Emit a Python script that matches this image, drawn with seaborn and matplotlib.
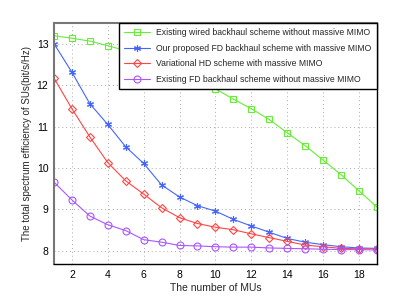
import matplotlib
matplotlib.use("Agg")
import matplotlib.pyplot as plt
import seaborn as sns
import pandas as pd
import numpy as np

mus = list(range(1, 20))

wired = [13.19, 13.13, 13.06, 12.95, 12.83, 12.69, 12.53, 12.35, 12.14, 11.91,
         11.66, 11.43, 11.17, 10.85, 10.54, 10.19, 9.84, 9.45, 9.06]
proposed_fd = [13.0, 12.31, 11.55, 11.05, 10.51, 10.11, 9.59, 9.30, 9.09, 8.96,
               8.76, 8.60, 8.45, 8.30, 8.21, 8.15, 8.10, 8.07, 8.06]
variational_hd = [12.17, 11.43, 10.75, 10.13, 9.69, 9.37, 9.04, 8.80, 8.66, 8.57,
                  8.51, 8.41, 8.32, 8.23, 8.14, 8.10, 8.06, 8.05, 8.05]
existing_fd = [9.66, 9.23, 8.84, 8.63, 8.49, 8.27, 8.21, 8.13, 8.12, 8.10,
               8.09, 8.09, 8.07, 8.06, 8.05, 8.04, 8.03, 8.03, 8.02]

labels = ["Existing wired backhaul scheme without massive MIMO",
          "Our proposed FD backhaul scheme with massive MIMO",
          "Variational HD scheme with massive MIMO",
          "Existing FD backhaul scheme without massive MIMO"]

sns.set_style("white")
plt.rcParams['font.family'] = ['Liberation Sans', 'DejaVu Sans']

fig = plt.figure(figsize=(4.15, 3.05), dpi=100)
ax = fig.add_axes([0.130, 0.134, 0.778, 0.791])

series = [(wired, "#66ee33", "s", 4.5), (proposed_fd, "#4466ff", (6, 2, 0), 5),
          (variational_hd, "#ff4444", "D", 4.2), (existing_fd, "#aa55ff", "o", 5)]
for (vals, col, mk, ms), lab in zip(series, labels):
    sns.lineplot(x=mus, y=vals, ax=ax, color=col, marker=mk, markersize=ms,
                 markerfacecolor="none", markeredgecolor=col,
                 markeredgewidth=0.8, lw=0.8, label=lab)

ax.set_xlim(1, 19)
ax.set_ylim(7.68, 13.5)
ax.set_xticks(range(2, 19, 2))
ax.set_yticks(range(8, 14))
ax.tick_params(direction="in", labelsize=7.5, length=3, colors="black", pad=4)
ax.grid(True, linestyle=(0, (1, 3)), color="#aaaaaa", lw=0.7)
for s in ["top", "left"]:
    ax.spines[s].set_color("#777777")
    ax.spines[s].set_linewidth(1.5)
for s in ["right", "bottom"]:
    ax.spines[s].set_color("black")
    ax.spines[s].set_linewidth(1.0)

ax.set_xlabel("The number of MUs", fontsize=7.5, labelpad=2.5)
ax.set_ylabel("The total spectrum efficiency of SUs(bit/s/Hz)", fontsize=7, labelpad=3)

leg = ax.legend(loc="upper right", fontsize=6.25, frameon=True, fancybox=False,
                borderaxespad=0, handlelength=3.0, labelspacing=0.75,
                borderpad=0.62, handletextpad=0.7)
leg.get_frame().set_edgecolor("black")
leg.get_frame().set_linewidth(1.0)
leg.get_frame().set_alpha(1)

fig.savefig("out.png", dpi=100)
